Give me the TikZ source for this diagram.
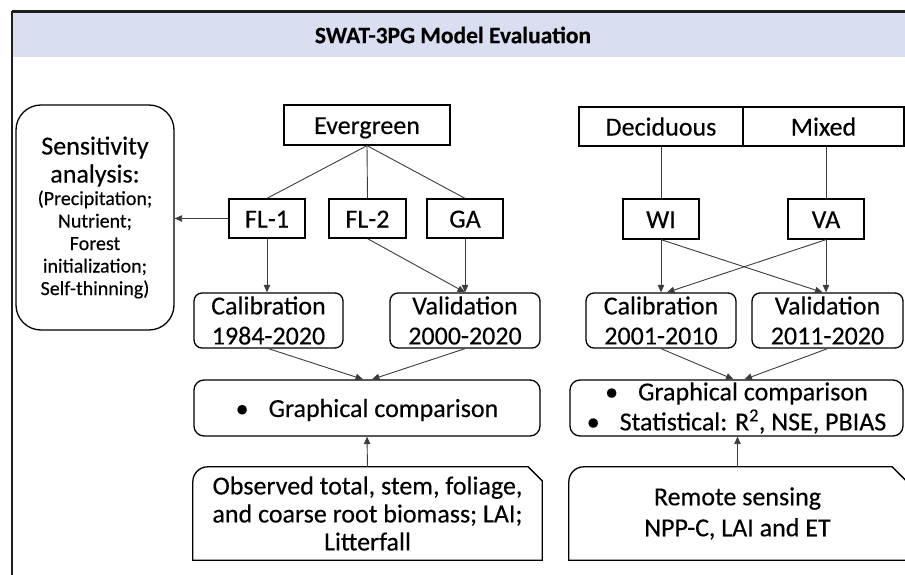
\documentclass[tikz,border=0pt]{standalone}
\usepackage{fontspec}
\setmainfont{Carlito}[FakeBold=0.3,BoldFont=Carlito Bold,BoldFeatures={FakeBold=0.2}]
\usetikzlibrary{arrows.meta,calc}
\definecolor{headfill}{RGB}{217,223,241}
\definecolor{framecol}{RGB}{30,30,30}
\definecolor{linkcol}{RGB}{60,60,60}
\begin{document}
\begin{tikzpicture}[x=1pt,y=-1pt,
  boxline/.style={draw=black,line width=1.3pt},
  box/.style={boxline,inner sep=0pt,align=center,font=\fontsize{26}{30}\selectfont},
  one/.style={text height=18pt,text depth=0pt},
  rbox/.style={box,rounded corners=8pt},
  link/.style={draw=linkcol,line width=0.9pt},
  arr/.style={link,-{Triangle[length=7.5pt,width=6.5pt]}},
]
\useasboundingbox (0,0) rectangle (905,575);
\clip (0,0) rectangle (905,575);
% frame and header
\fill[headfill] (13,13) rectangle (905,57);
\draw[framecol,line width=2.6pt] (12,11.5) -- (920,11.5);
\draw[framecol,line width=2.6pt] (12,11.5) -- (12,590);
\node[font=\bfseries\fontsize{23.5}{26}\selectfont] (title) at (453,35) {SWAT-3PG Model Evaluation};

% left column
\node[box,rounded corners=25pt,minimum width=158pt,minimum height=225pt,font=\fontsize{20}{28}\selectfont] (sens) at (95,217.5)
  {{\fontsize{26}{28}\selectfont Sensitivity}\\{\fontsize{26}{28}\selectfont analysis:}\\[-5.5pt](Precipitation;\\[-5.5pt]Nutrient;\\[-5.5pt]Forest\\[-5.5pt]initialization;\\[-5.5pt]Self-thinning)};

\node[box,one,minimum width=166pt,minimum height=40pt] (ever) at (367,125) {Evergreen};
\node[box,one,minimum width=76pt,minimum height=39pt] (fl1) at (267,218.5) {FL-1};
\node[box,one,minimum width=77pt,minimum height=39pt] (fl2) at (367.5,218.5) {FL-2};
\node[box,one,minimum width=76pt,minimum height=39pt] (ga) at (465,218.5) {GA};
\node[rbox,minimum width=149pt,minimum height=55pt] (calL) at (268.5,320.5) {Calibration\\1984-2020};
\node[rbox,minimum width=150pt,minimum height=55pt] (valL) at (465,320.5) {Validation\\2000-2020};
\node[box,one,rounded corners=10pt,minimum width=346pt,minimum height=56pt] (grL) at (367,408) {\textbullet\hspace{20pt}Graphical comparison};
\node[inner sep=0pt,align=center,font=\fontsize{26}{30}\selectfont,minimum width=349pt,minimum height=93pt] (obsL) at (367.5,513.5)
  {Observed total, stem, foliage,\\[-2pt]and coarse root biomass; LAI;\\[-2pt]Litterfall};
\draw[boxline] ([yshift=-15pt]obsL.north west) arc[start angle=180,end angle=90,radius=15pt]
  -- ([xshift=-14pt]obsL.north east) -- ([yshift=-14pt]obsL.north east)
  -- (obsL.south east) -- (obsL.south west) -- cycle;

% right column
\node[box,one,minimum width=164pt,minimum height=39pt] (dec) at (661,126.5) {Deciduous};
\node[box,one,minimum width=161pt,minimum height=39pt] (mix) at (823.5,126.5) {Mixed};
\node[box,one,minimum width=76pt,minimum height=40pt] (wi) at (661,219) {WI};
\node[box,one,minimum width=76pt,minimum height=40pt] (va) at (826,219) {VA};
\node[rbox,minimum width=150pt,minimum height=55pt] (calR) at (661,320.5) {Calibration\\2001-2010};
\node[rbox,minimum width=151pt,minimum height=55pt] (valR) at (827.5,320.5) {Validation\\2011-2020};
\node[box,rounded corners=10pt,minimum width=333pt,minimum height=56pt] (grR) at (736.5,408)
  {\textbullet\hspace{20pt}Graphical comparison\\\textbullet\hspace{20pt}Statistical: R\textsuperscript{2}, NSE, PBIAS};
\node[inner sep=0pt,align=center,font=\fontsize{26}{30}\selectfont,minimum width=337pt,minimum height=93pt] (obsR) at (737.5,513.5)
  {Remote sensing\\[1pt]NPP-C, LAI and ET};
\draw[boxline] ([yshift=-15pt]obsR.north west) arc[start angle=180,end angle=90,radius=15pt]
  -- ([xshift=-14pt]obsR.north east) -- ([yshift=-14pt]obsR.north east)
  -- (obsR.south east) -- (obsR.south west) -- cycle;

% connectors left
\draw[link] (ever.south) -- (fl1.north);
\draw[link] (ever.south) -- (fl2.north);
\draw[link] (ever.south) -- (ga.north);
\draw[arr] (fl1.west) -- (fl1.west -| sens.east);
\draw[arr] (fl1.south) -- (fl1.south |- calL.north);
\draw[arr] (fl2.south) -- (valL.north);
\draw[arr] (ga.south) -- (valL.north);
\draw[arr] (calL.south) -- ([xshift=-4pt]grL.north);
\draw[arr] (valL.south) -- ([xshift=5pt]grL.north);
\draw[arr] (obsL.north) -- (grL.south);

% connectors right
\draw[link] (wi.north |- dec.south) -- (wi.north);
\draw[link] (va.north |- mix.south) -- (va.north);
\draw[arr] (wi.south) -- (calR.north);
\draw[arr] (wi.south) -- ([xshift=-5pt]valR.north);
\draw[arr] (va.south) -- ([xshift=6pt]calR.north);
\draw[arr] (va.south) -- (va.south |- valR.north);
\draw[arr] (calR.south) -- ([xshift=-3pt]grR.north);
\draw[arr] (valR.south) -- ([xshift=8pt]grR.north);
\draw[arr] (obsR.north) -- (obsR.north |- grR.south);
\end{tikzpicture}
\end{document}
